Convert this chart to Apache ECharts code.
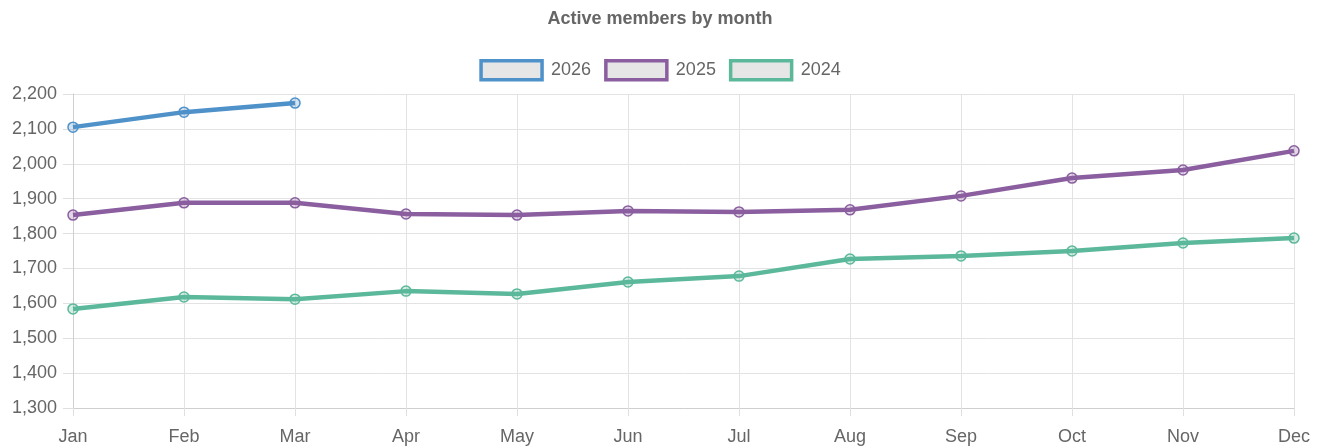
<!DOCTYPE html>
<html>
<head>
<meta charset="utf-8">
<script src="https://cdn.jsdelivr.net/npm/echarts@6/dist/echarts.min.js"></script>
<style>
  html, body { margin: 0; padding: 0; background: #fff; }
  #main { width: 1320px; height: 447px; }
</style>
</head>
<body>
<div id="main"></div>
<script>
// 数据
const months = ['Jan', 'Feb', 'Mar', 'Apr', 'May', 'Jun', 'Jul', 'Aug', 'Sep', 'Oct', 'Nov', 'Dec'];
const y2026 = [2105, 2148, 2174];
const y2025 = [1853, 1888, 1888, 1856, 1853, 1865, 1862, 1868, 1908, 1959, 1982, 2037];
const y2024 = [1584, 1618, 1612, 1635, 1627, 1661, 1678, 1727, 1736, 1750, 1773, 1787];
const yTicks = [1300, 1400, 1500, 1600, 1700, 1800, 1900, 2000, 2100, 2200];

const colors = { '2026': '#4f91c9', '2025': '#8a5e9f', '2024': '#5bb89b' };
const fills = { '2026': 'rgba(79,145,201,0.25)', '2025': 'rgba(138,94,159,0.25)', '2024': 'rgba(91,184,155,0.25)' };
const font = 'Liberation Sans, Arial, Helvetica, sans-serif';

const myChart = echarts.init(document.getElementById('main'));

function lineSeries(name, data) {
  const c = colors[name];
  return {
    name: name,
    type: 'line',
    data: data,
    symbol: 'circle',
    symbolSize: 10,
    showSymbol: true,
    lineStyle: { width: 4.5, color: c },
    itemStyle: { color: fills[name], borderColor: c, borderWidth: 1.5 },
    emphasis: { disabled: true }
  };
}

const option = {
  animation: false,
  title: {
    text: 'Active members by month',
    left: 'center',
    top: 5,
    textStyle: { fontFamily: font, fontSize: 18, fontWeight: 'bold', color: '#666' }
  },
  legend: {
    top: 54,
    left: 'center',
    itemWidth: 61,
    itemHeight: 19,
    itemGap: 13,
    icon: 'rect',
    textStyle: { fontFamily: font, fontSize: 18, color: '#666', padding: [0, 0, 0, 4] },
    data: ['2026', '2025', '2024'].map(n => ({
      name: n,
      itemStyle: { color: '#e6e6e6', borderColor: colors[n], borderWidth: 3.5 }
    }))
  },
  grid: { left: 73, right: 26, top: 94, bottom: 39, containLabel: false },
  xAxis: {
    type: 'category',
    data: months,
    boundaryGap: false,
    axisLine: { show: true, lineStyle: { color: '#cfcfcf' } },
    axisTick: { show: true, length: 8, lineStyle: { color: '#e0e0e0' } },
    axisLabel: { fontFamily: font, fontSize: 18, color: '#666', margin: 20 },
    splitLine: { show: true, lineStyle: { color: '#e3e3e3' } }
  },
  yAxis: {
    type: 'value',
    min: yTicks[0],
    max: yTicks[yTicks.length - 1],
    interval: 100,
    axisLine: { show: true, lineStyle: { color: '#cfcfcf' } },
    axisTick: { show: true, length: 10, lineStyle: { color: '#e0e0e0' } },
    axisLabel: {
      fontFamily: font, fontSize: 18, color: '#666', margin: 16,
      formatter: v => v.toLocaleString('en-US')
    },
    splitLine: { show: true, lineStyle: { color: '#e3e3e3' } }
  },
  series: [
    lineSeries('2026', y2026),
    lineSeries('2025', y2025),
    lineSeries('2024', y2024)
  ]
};

option && myChart.setOption(option);
</script>
</body>
</html>
